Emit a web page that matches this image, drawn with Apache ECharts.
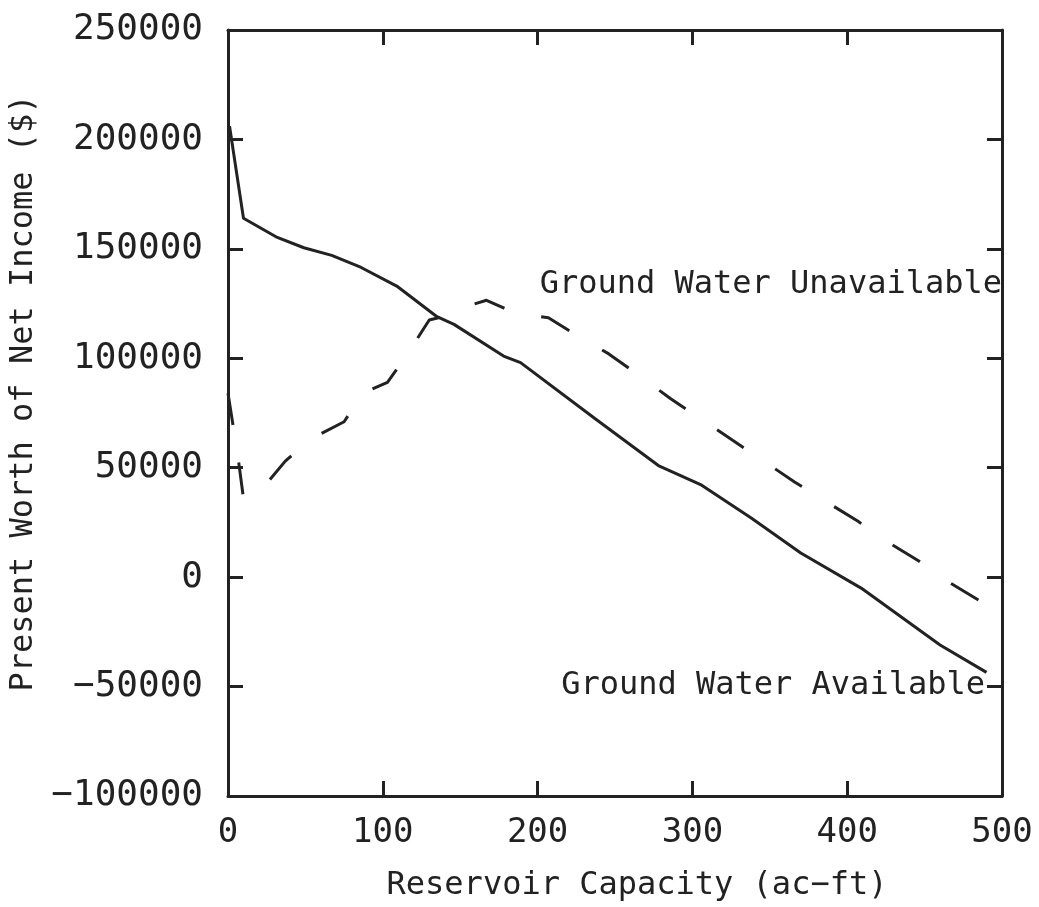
<!DOCTYPE html>
<html lang="en">
<head>
    <meta charset="UTF-8">
    <title>Present Worth of Net Income vs Reservoir Capacity</title>
    <script src="https://cdn.jsdelivr.net/npm/echarts@6/dist/echarts.min.js"></script>
    <style>
        html, body { margin: 0; padding: 0; background: #fff; }
    </style>
</head>
<body>

<!-- chart area -->
<div id="eCharts" style="width: 1039px;height: 907px"></div>

<script>
    // ground water available (solid line)
    var availX = [1, 10, 31, 49, 67, 86, 109, 135, 146, 178, 189, 237, 278, 306, 338, 370, 409, 460, 490];
    var availY = [206000, 164000, 155500, 150500, 147000, 141500, 133000, 119000, 115500, 101000, 98000, 72500, 51000, 42000, 27000, 11000, -5000, -31000, -43500];

    // ground water unavailable (dashed line)
    var unavailX = [0, 4, 7, 10, 16, 22, 27, 37, 53, 75, 87, 103, 116, 130, 139, 146, 167, 178, 184, 207, 224, 246, 264, 286, 304, 326, 344, 366, 384, 407, 425, 446, 465, 486, 491];
    var unavailY = [84000, 66000, 52000, 36000, 41000, 44000, 44500, 53000, 63000, 71000, 84000, 89000, 102000, 117500, 119000, 122000, 126500, 123000, 121000, 118500, 111000, 102000, 93000, 81500, 73000, 62500, 54000, 43500, 35500, 25500, 16500, 7500, -2000, -11000, -13000];

    // curve labels: [text, x, y]
    var curveLabels = [
        ['Ground Water Unavailable', 500, 133500],
        ['Ground Water Available', 489, -49500]
    ];

    var xTicks = [0, 100, 200, 300, 400, 500];
    var yTicks = [-100000, -50000, 0, 50000, 100000, 150000, 200000, 250000];

    function pairs(xs, ys) {
        return xs.map(function (x, i) { return [x, ys[i]]; });
    }

    var ink = '#222';
    var font = '"DejaVu Sans Mono", monospace';

    var myChart = echarts.init(document.getElementById("eCharts"));

    var frameAxis = {
        axisLine: {show: true, onZero: false, lineStyle: {color: ink, width: 3}},
        axisTick: {show: true, inside: true, length: 15, lineStyle: {color: ink, width: 3}},
        splitLine: {show: false}
    };

    var option = {
        animation: false,
        backgroundColor: '#fff',
        textStyle: {fontFamily: font, color: ink},
        grid: {left: 223, right: 37, top: 30, bottom: 107},
        xAxis: [
            Object.assign({
                type: 'value',
                min: xTicks[0],
                max: xTicks[xTicks.length - 1],
                interval: 100,
                position: 'bottom',
                name: 'Reservoir Capacity (ac\u2212ft)',
                nameLocation: 'middle',
                nameGap: 74,
                nameTextStyle: {fontFamily: font, fontSize: 32, color: ink, padding: [0, 0, 0, 44]},
                axisLabel: {fontFamily: font, fontSize: 34, color: ink, margin: 20}
            }, frameAxis),
            Object.assign({
                type: 'value',
                min: xTicks[0],
                max: xTicks[xTicks.length - 1],
                interval: 100,
                position: 'top',
                axisLabel: {show: false}
            }, frameAxis)
        ],
        yAxis: [
            Object.assign({
                type: 'value',
                min: yTicks[0],
                max: yTicks[yTicks.length - 1],
                interval: 50000,
                position: 'left',
                name: 'Present Worth of Net Income ($)',
                nameLocation: 'middle',
                nameGap: 188,
                nameTextStyle: {fontFamily: font, fontSize: 32, color: ink, padding: [0, 0, 0, 40]},
                axisLabel: {
                    fontFamily: font, fontSize: 36, color: ink, margin: 25,
                    formatter: function (v) { return v < 0 ? '\u2212' + Math.abs(v) : String(v); }
                }
            }, frameAxis),
            Object.assign({
                type: 'value',
                min: yTicks[0],
                max: yTicks[yTicks.length - 1],
                interval: 50000,
                position: 'right',
                axisLabel: {show: false}
            }, frameAxis)
        ],
        series: [
            {
                name: 'Ground Water Available',
                type: 'line',
                data: pairs(availX, availY),
                showSymbol: false,
                lineStyle: {color: ink, width: 3},
                markPoint: {
                    symbol: 'circle',
                    symbolSize: 0,
                    label: {
                        show: true, position: 'left', distance: 0,
                        fontFamily: font, fontSize: 32, color: ink,
                        formatter: function (p) { return p.name; }
                    },
                    data: [{name: curveLabels[1][0], coord: [curveLabels[1][1], curveLabels[1][2]]}]
                }
            },
            {
                name: 'Ground Water Unavailable',
                type: 'line',
                data: pairs(unavailX, unavailY),
                showSymbol: false,
                lineStyle: {color: ink, width: 3, type: [32, 38]},
                markPoint: {
                    symbol: 'circle',
                    symbolSize: 0,
                    label: {
                        show: true, position: 'left', distance: 0,
                        fontFamily: font, fontSize: 32, color: ink,
                        formatter: function (p) { return p.name; }
                    },
                    data: [{name: curveLabels[0][0], coord: [curveLabels[0][1], curveLabels[0][2]]}]
                }
            }
        ]
    };

    myChart.setOption(option);
</script>

</body>
</html>
